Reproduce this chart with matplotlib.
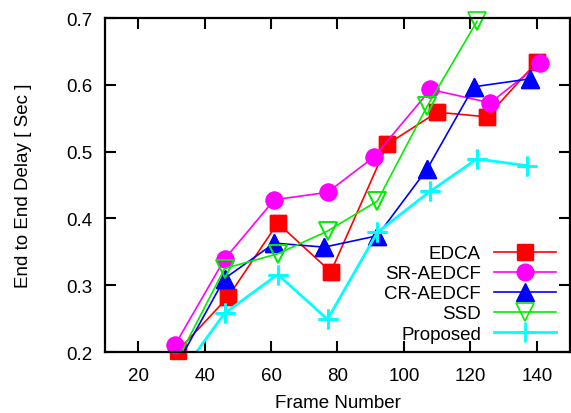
import matplotlib
matplotlib.use('Agg')
import matplotlib.pyplot as plt

plt.rcParams['font.family'] = ['Liberation Sans', 'DejaVu Sans']

# values
edca_x = [32, 47, 62, 78, 95, 110, 125, 140]
edca_y = [0.202, 0.282, 0.393, 0.320, 0.511, 0.559, 0.552, 0.634]
sr_x = [31, 46, 61, 77, 91, 108, 126, 141]
sr_y = [0.210, 0.339, 0.428, 0.439, 0.492, 0.593, 0.573, 0.632]
cr_x = [31, 46, 61, 76, 92, 107, 121, 138]
cr_y = [0.175, 0.310, 0.363, 0.357, 0.374, 0.474, 0.597, 0.609]
ssd_x = [31, 46, 62, 77, 92, 107, 122]
ssd_y = [0.180, 0.325, 0.347, 0.381, 0.426, 0.568, 0.695]
prop_x = [31, 46, 62, 77, 92, 108, 122, 137]
prop_y = [0.155, 0.258, 0.316, 0.249, 0.379, 0.441, 0.489, 0.479]

x_ticks = [20, 40, 60, 80, 100, 120, 140]
y_ticks = [0.2, 0.3, 0.4, 0.5, 0.6, 0.7]
ymin, ymax = 0.2, 0.7

fig = plt.figure(figsize=(5.71, 4.14), dpi=100)
ax = fig.add_axes([105/571, 61/414, 465/571, 334/414])

series = [
    (edca_x, edca_y, 'EDCA', dict(color='#ff0000', lw=1.2, marker='s', ms=12)),
    (sr_x, sr_y, 'SR-AEDCF', dict(color='#ff00ff', lw=1.2, marker='o', ms=12)),
    (cr_x, cr_y, 'CR-AEDCF', dict(color='#0000ff', lw=1.2, marker='^', ms=13)),
    (ssd_x, ssd_y, 'SSD', dict(color='#00ee00', lw=1.2, marker='v', ms=13,
                               mfc='none', mew=1.2)),
    (prop_x, prop_y, 'Proposed', dict(color='#00ffff', lw=2, marker='+', ms=15, mew=2)),
]

for xs, ys, name, st in series:
    # gnuplot style: out of range points get no marker, in range markers are not clipped
    keep = [i for i, v in enumerate(ys) if ymin - 0.005 <= v <= ymax + 0.005]
    ax.plot(xs, ys, markevery=keep, label=name, **st)
    ax.plot([xs[i] for i in keep], [ys[i] for i in keep], ls='none',
            clip_on=False, **{k: v for k, v in st.items() if k != 'lw'})

ax.set_xlim(10, 150)
ax.set_ylim(ymin, ymax)
ax.set_xticks(x_ticks)
ax.set_yticks(y_ticks)
ax.set_yticklabels(['%.1f' % v for v in y_ticks])
ax.tick_params(direction='in', top=True, right=True, length=8, width=1.5,
               labelsize=13.5)
ax.tick_params(axis='x', pad=11)
ax.tick_params(axis='y', pad=9)
for s in ax.spines.values():
    s.set_linewidth(1.6)

ax.set_xlabel('Frame Number', fontsize=13.5, labelpad=7)
ax.set_ylabel('End to End Delay [ Sec ]', fontsize=13.5, labelpad=25)

ax.legend(loc='lower right', bbox_to_anchor=(0.99, 0.0), frameon=False,
          markerfirst=False, fontsize=13.5, handlelength=3.3, handletextpad=0.7,
          labelspacing=0.16, borderaxespad=0.1)

fig.savefig('out.png', dpi=100)
